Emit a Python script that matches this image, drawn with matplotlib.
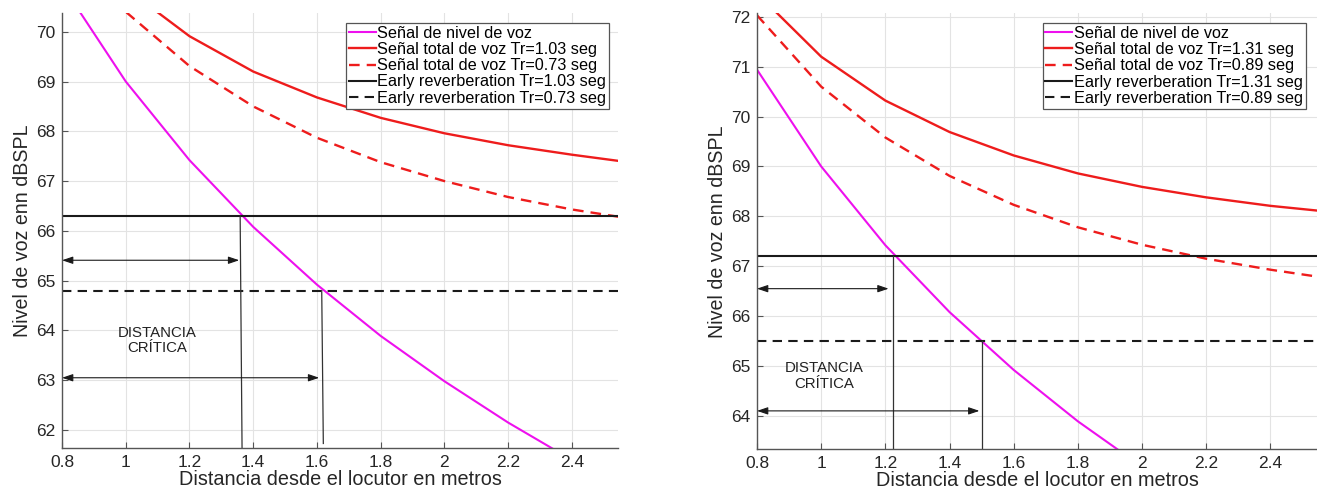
import matplotlib
matplotlib.use("Agg")
import matplotlib.pyplot as plt

plt.rcParams['font.family'] = ['Liberation Sans', 'DejaVu Sans']

# Distances from the speaker (m)
distancia = [0.8, 1.0, 1.2, 1.4, 1.6, 1.8, 2.0, 2.2, 2.4, 2.6]

# Direct speech level (dB SPL)
nivel_voz = [70.94, 69.00, 67.42, 66.08, 64.92, 63.89, 62.98, 62.15, 61.40, 60.70]

# Room A: total speech level for two reverberation times
total_a_103 = [72.22, 70.87, 69.91, 69.20, 68.68, 68.27, 67.96, 67.72, 67.53, 67.36]
total_a_073 = [71.89, 70.40, 69.31, 68.50, 67.87, 67.38, 67.00, 66.68, 66.43, 66.23]
early_a_103 = 66.3
early_a_073 = 64.8
tr_a = ["1.03", "0.73"]

# Room B: total speech level for two reverberation times
total_b_131 = [72.47, 71.20, 70.32, 69.69, 69.22, 68.86, 68.59, 68.38, 68.21, 68.08]
total_b_089 = [72.03, 70.60, 69.58, 68.81, 68.23, 67.78, 67.43, 67.15, 66.93, 66.74]
early_b_131 = 67.2
early_b_089 = 65.5
tr_b = ["1.31", "0.89"]

# Critical-distance markers: (x top, x bottom, y bottom) of each drop line
critica_a = [(1.359, 1.365, 61.60), (1.615, 1.620, 61.73)]
flechas_a = [(1.356, 65.41), (1.607, 63.05)]
critica_b = [(1.225, 1.225, 63.30), (1.50, 1.50, 63.30)]
flechas_b = [(1.21, 66.55), (1.493, 64.10)]

xticks = [0.8, 1.0, 1.2, 1.4, 1.6, 1.8, 2.0, 2.2, 2.4]
xticklabels = ["0.8", "1", "1.2", "1.4", "1.6", "1.8", "2", "2.2", "2.4"]

MAGENTA = "#ee10ee"
ROJO = "#ee1c1c"
NEGRO = "#1a1a1a"
EJE = "#555555"

fig = plt.figure(figsize=(13.17, 4.94), dpi=100)
ax1 = fig.add_axes([0.0471, 0.0937, 0.4222, 0.8794])
ax2 = fig.add_axes([0.5748, 0.0905, 0.4252, 0.8826])


def panel(ax, tot_hi, tot_lo, early_hi, early_lo, trs, criticas, flechas,
          ylim, yticks, texto_xy, leg_anchor):
    ax.plot(distancia, nivel_voz, color=MAGENTA, lw=1.5,
            label="Señal de nivel de voz")
    ax.plot(distancia, tot_hi, color=ROJO, lw=1.7,
            label=f"Señal total de voz Tr={trs[0]} seg")
    ax.plot(distancia, tot_lo, color=ROJO, lw=1.7, dashes=(4.5, 3),
            label=f"Señal total de voz Tr={trs[1]} seg")
    ax.axhline(early_hi, color=NEGRO, lw=1.5,
               label=f"Early reverberation Tr={trs[0]} seg")
    ax.axhline(early_lo, color=NEGRO, lw=1.5, dashes=(4.5, 3),
               label=f"Early reverberation Tr={trs[1]} seg")

    tops = [early_hi, early_lo]
    for (xt, xb, yb), yt in zip(criticas, tops):
        ax.plot([xt, xb], [yt, yb], color="#333333", lw=0.9)
    for xe, ya in flechas:
        ax.annotate("", xy=(xe, ya), xytext=(0.8, ya),
                    arrowprops=dict(arrowstyle="<|-|>,head_length=0.65,head_width=0.22",
                                    color=NEGRO, lw=0.8, shrinkA=0, shrinkB=0))
    ax.text(texto_xy[0], texto_xy[1], "DISTANCIA\nCRÍTICA", ha="center",
            va="center", fontsize=10.8, color="#222222", linespacing=1.15)

    ax.set_xlim(0.8, 2.545)
    ax.set_ylim(*ylim)
    ax.set_xticks(xticks)
    ax.set_xticklabels(xticklabels)
    ax.set_yticks(yticks)
    ax.grid(True, color="#e3e3e3", lw=0.8)
    ax.set_axisbelow(True)
    for s in ("top", "right"):
        ax.spines[s].set_visible(False)
    for s in ("left", "bottom"):
        ax.spines[s].set_color(EJE)
        ax.spines[s].set_linewidth(1.0)
    ax.tick_params(direction="in", length=4, width=0.8, color=EJE,
                   labelsize=12.5, labelcolor="#262626", pad=5)
    ax.set_xlabel("Distancia desde el locutor en metros", fontsize=14.3,
                  color="#262626", labelpad=0)
    ax.set_ylabel("Nivel de voz enn dBSPL", fontsize=14.1, color="#262626",
                  labelpad=3)
    leg = ax.legend(loc="upper right", bbox_to_anchor=leg_anchor,
                    borderaxespad=0, fontsize=11.7, fancybox=False,
                    framealpha=1, edgecolor="#555555", labelspacing=0.08,
                    handlelength=1.65, handletextpad=0.1, borderpad=0.18)
    leg.get_frame().set_linewidth(0.9)


panel(ax1, total_a_103, total_a_073, early_a_103, early_a_073, tr_a,
      critica_a, flechas_a, (61.645, 70.37), list(range(62, 71)),
      (1.098, 63.80), (0.9844, 0.9784))
panel(ax2, total_b_131, total_b_089, early_b_131, early_b_089, tr_b,
      critica_b, flechas_b, (63.33, 72.07), list(range(64, 73)),
      (1.009, 64.80), (0.980, 0.978))

fig.savefig("out.png", dpi=100)
